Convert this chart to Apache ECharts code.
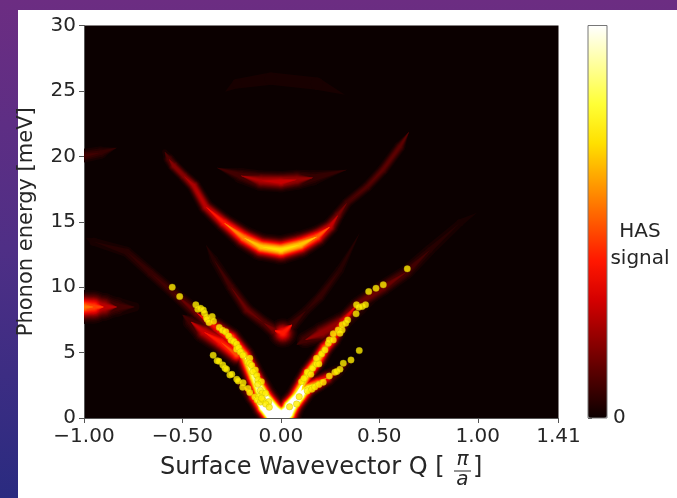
<!DOCTYPE html>
<html>
<head>
<meta charset="utf-8">
<title>HAS signal</title>
<script src="https://cdn.jsdelivr.net/npm/echarts@6/dist/echarts.min.js"></script>
<style>
    html, body {margin: 0; width: 677px; height: 498px; overflow: hidden;
        background: linear-gradient(180deg, #6c2d82 0%, #4f2f86 50%, #2a2b80 100%);}
    #panel {position: absolute; left: 18px; top: 10px; right: 0; bottom: 0; background: #fff;}
    #chart {position: absolute; left: 0; top: 0; width: 677px; height: 498px; filter: blur(0.7px);}
</style>
</head>
<body>
<div id="panel"></div>
<div id="chart"></div>
<script>
// ticks
var qTicks = [-1, -0.5, 0, 0.5, 1, 1.41];
var energyTicks = [0, 5, 10, 15, 20, 25, 30];
var colorTicks = [0];

// hot colormap, 0 to 1 in steps of 0.1
var hotColors = ['#0b0000', '#4e0000', '#910000', '#d40000', '#ff1700', '#ff5a00',
    '#ff9d00', '#ffe000', '#ffff36', '#ffff9b', '#ffffff'];

// measured phonon points [Q, meV]
var pointsLeftUpper = [[-.552,10.0],[-.514,9.28],[-.432,8.65],[-.422,8.32],[-.408,8.39],[-.394,8.26],
    [-.388,8.01],[-.378,7.70],[-.375,7.55],[-.365,7.29],[-.349,7.75],[-.342,7.40],[-.313,6.92],
    [-.297,6.71],[-.280,6.60],[-.265,6.27],[-.253,5.94],[-.239,5.84],[-.225,5.66],[-.225,5.26],
    [-.215,5.36],[-.206,5.05],[-.193,4.80],[-.158,4.57],[-.168,4.28],[-.158,4.17],[-.148,4.02],
    [-.130,3.67],[-.142,3.54],[-.122,3.25],[-.117,2.91],[-.099,2.78],[-.117,2.58]];
var pointsLeftLower = [[-.344,4.80],[-.324,4.38],[-.315,4.34],[-.295,4.06],[-.284,3.80],[-.276,3.73],
    [-.259,3.29],[-.249,3.34],[-.224,2.96],[-.217,2.83],[-.192,2.70],[-.194,2.35],[-.167,2.25],
    [-.158,1.94],[-.132,1.61]];
var pointsCentre = [[-.104,2.11],[-.095,1.89],[-.078,1.89],[-.112,1.63],[-.120,1.38],[-.103,1.22],
    [-.091,1.38],[-.098,1.51],[-.062,1.25],[-.077,1.07],[-.059,.83]];
var pointsRightLower = [[.044,.86],[.080,1.07],[.093,1.63],[.134,2.07],[.157,2.20],[.172,2.37],
    [.193,2.56],[.215,2.73],[.246,3.21],[.274,3.50],[.284,3.56],[.300,3.73],[.317,4.19],[.356,4.44],
    [.398,5.15]];
var pointsRightUpper = [[.105,2.78],[.117,3.02],[.134,3.50],[.152,3.34],[.161,3.80],[.181,4.13],
    [.193,4.13],[.181,4.57],[.207,4.90],[.224,5.20],[.241,5.72],[.246,5.97],[.266,5.97],[.266,6.43],
    [.291,6.73],[.311,6.73],[.300,6.48],[.311,7.12],[.329,7.25],[.339,7.50],[.382,7.96],[.384,8.65],
    [.396,8.47],[.413,8.52],[.430,8.65],[.446,9.66],[.483,9.92],[.520,10.18],[.642,11.40]];

// signal ridges [Q, meV, signal, spread in meV]
var ridgeArc13 = [[-.590,20.35,.03,.22],[-.569,19.8,.12,.22],[-.544,19.28,.2,.22],[-.493,18.5,.2,.22],[-.442,17.75,.26,.24],
    [-.381,16.14,.28,.26],[-.289,14.92,.42,.3],[-.188,13.77,.58,.36],[-.101,13.08,.68,.4],
    [0,12.85,.72,.42],[.097,13.24,.68,.4],[.183,13.85,.52,.34],[.249,14.61,.3,.28],[.29,15.5,.17,.24],[.336,16.45,.1,.22],
    [.437,17.67,.11,.22],[.518,18.97,.13,.22],[.604,20.73,.13,.22],[.651,21.88,.02,.22]];
var ridgeArc18 = [[-.325,19.13,.02,.3],[-.203,18.52,.1,.33],[-.101,18.13,.25,.35],[0,18.06,.3,.35],
    [.081,18.21,.22,.35],[.163,18.36,.08,.35],[.336,18.97,.02,.3]];
var ridgeArc25 = [[-.284,24.94,.015,.4],[-.224,25.55,.03,.4],[-.051,25.94,.04,.4],[.183,25.55,.04,.4],
    [.325,24.71,.02,.4]];
var ridgeFlat8 = [[-1.0,8.49,.55,.5],[-.951,8.49,.48,.5],[-.900,8.49,.28,.46],[-.833,8.49,.1,.42],
    [-.742,8.49,.03,.4]];
var ridgeFlat20 = [[-1.0,20.05,.09,.3],[-.915,20.28,.07,.3],[-.833,20.66,.02,.3]];
var ridgeLeftMain = [[-.991,13.77,.02,.26],[-.951,13.47,.04,.26],[-.783,12.70,.06,.26],[-.661,11.09,.08,.26],
    [-.544,9.56,.1,.26],[-.427,8.03,.16,.28],[-.325,6.89,.4,.32],[-.254,6.12,.62,.32],[-.188,4.82,.72,.32],
    [-.137,3.14,.9,.34],[-.086,1.53,1.3,.38],[-.036,.46,1.6,.4],[0,.08,1.6,.4]];
var ridgeLeftInner = [[-.50,7.9,.02,.3],[-.457,7.35,.1,.35],[-.391,6.58,.3,.38],[-.305,5.81,.42,.38],[-.224,4.82,.5,.35]];
var ridgeLeftLower = [[-.249,3.29,.02,.25],[-.188,2.37,.12,.25],[-.137,1.61,.55,.28],[-.086,.84,1.3,.34],
    [-.046,.23,1.6,.38]];
var ridgeCross = [[-.381,13.24,.015,.24],[-.340,12.09,.05,.24],[-.254,10.02,.1,.24],[-.172,8.26,.15,.26],
    [-.086,7.27,.12,.28],[-.031,6.66,.18,.3],[.010,6.50,.42,.45],[.056,7.12,.1,.3],[.127,8.19,.06,.25],
    [.198,9.26,.08,.24],[.300,11.32,.05,.24],[.401,14.15,.02,.24]];
var ridgeRightMain = [[0,.08,1.6,.4],[.031,.38,1.5,.4],[.076,1.45,1.1,.34],[.112,2.68,.75,.3],
    [.138,3.44,.78,.28],[.188,4.44,.72,.28],[.224,5.36,.62,.28],[.260,5.97,.5,.28],[.315,7.35,.36,.28],
    [.386,8.65,.16,.28],[.518,9.95,.16,.3],[.640,11.17,.1,.3],[.757,12.85,.05,.3],[.910,14.92,.03,.3],
    [.996,15.68,.015,.3]];
var ridgeRightInner = [[.08,5.6,.02,.3],[.122,5.97,.1,.35],[.208,6.50,.22,.38],[.300,7.27,.22,.35],[.401,8.42,.08,.33],
    [.478,9.18,.03,.3]];
var ridgeRightLower = [[.046,.84,1.5,.36],[.097,1.76,1.25,.34],[.138,2.30,.8,.3],[.188,2.68,.6,.28],
    [.234,3.06,.38,.28],[.284,3.52,.12,.28],[.351,4.28,.03,.25]];

var ridges = [ridgeArc13, ridgeArc18, ridgeArc25, ridgeFlat8, ridgeFlat20, ridgeLeftMain, ridgeLeftInner,
    ridgeLeftLower, ridgeCross, ridgeRightMain, ridgeRightInner, ridgeRightLower];
var points = pointsLeftUpper.concat(pointsLeftLower, pointsCentre, pointsRightLower, pointsRightUpper);

(function () {
    var myChart = echarts.init(document.getElementById('chart'));
    var font = '"DejaVu Sans"';
    var ink = '#262626';

    // half width of a gaussian ridge where it crosses the level t
    function halfWidth(p, t) {
        return p[2] > t ? p[3] * Math.sqrt(2 * Math.log(p[2] / t)) : 0;
    }

    // one item per ridge segment per signal level, low levels first
    var bands = [];
    for (var t = 0.02; t <= 1.001; t += 0.02) {
        ridges.forEach(function (ridge) {
            for (var i = 0; i < ridge.length - 1; i++) {
                var a = ridge[i], b = ridge[i + 1];
                var ra = halfWidth(a, t), rb = halfWidth(b, t);
                if (ra > 0 || rb > 0) {
                    bands.push([a[0], a[1], ra, b[0], b[1], rb, t]);
                }
            }
        });
    }

    function renderBand(params, api) {
        var p1 = api.coord([api.value(0), api.value(1)]);
        var p2 = api.coord([api.value(3), api.value(4)]);
        var r1 = api.size([0, api.value(2)])[1];
        var r2 = api.size([0, api.value(5)])[1];
        var dx = p2[0] - p1[0], dy = p2[1] - p1[1];
        var len = Math.sqrt(dx * dx + dy * dy) || 1;
        var nx = -dy / len, ny = dx / len;
        var color = api.visual('color');
        var style = {fill: color};
        var children = [{
            type: 'polygon',
            shape: {points: [
                [p1[0] + nx * r1, p1[1] + ny * r1], [p2[0] + nx * r2, p2[1] + ny * r2],
                [p2[0] - nx * r2, p2[1] - ny * r2], [p1[0] - nx * r1, p1[1] - ny * r1]
            ]},
            style: style
        }];
        if (r1 > 0) children.push({type: 'circle', shape: {cx: p1[0], cy: p1[1], r: r1}, style: style});
        if (r2 > 0) children.push({type: 'circle', shape: {cx: p2[0], cy: p2[1], r: r2}, style: style});
        return {type: 'group', children: children};
    }

    var lineStyle = {onZero: false, lineStyle: {color: '#555', width: 1}};

    var option = {
        backgroundColor: 'transparent',
        animation: false,
        grid: [
            {left: 84, right: 118.5, top: 25.5, bottom: 80, show: true, borderWidth: 0, backgroundColor: '#0b0000'},
            {left: 588, right: 70, top: 25.5, bottom: 80}
        ],
        xAxis: [
            {
                type: 'value',
                min: -1,
                max: 1.41,
                splitLine: {show: false},
                axisLine: lineStyle,
                axisTick: {length: 5, lineStyle: lineStyle.lineStyle, customValues: qTicks},
                axisLabel: {
                    customValues: qTicks,
                    margin: 9,
                    color: ink, fontFamily: font, fontSize: 20,
                    formatter: function (v) {
                        return v.toFixed(2).replace('-', '\u2212');
                    }
                }
            },
            {gridIndex: 1, type: 'value', min: 0, max: 1, show: false}
        ],
        yAxis: [
            {
                type: 'value',
                min: 0,
                max: 30,
                interval: 5,
                name: 'Phonon energy [meV]',
                nameLocation: 'middle',
                nameGap: 47,
                nameTextStyle: {color: ink, fontFamily: font, fontSize: 21},
                splitLine: {show: false},
                axisLine: lineStyle,
                axisTick: {length: 5, lineStyle: lineStyle.lineStyle, customValues: energyTicks},
                axisLabel: {customValues: energyTicks, margin: 8, color: ink, fontFamily: font, fontSize: 20}
            },
            {
                gridIndex: 1,
                type: 'value',
                position: 'right',
                min: 0,
                max: 1,
                splitLine: {show: false},
                axisLine: {show: false},
                axisTick: {length: 4, lineStyle: lineStyle.lineStyle, customValues: colorTicks},
                axisLabel: {customValues: colorTicks, margin: 6, color: ink, fontFamily: font, fontSize: 20}
            }
        ],
        visualMap: {
            type: 'continuous',
            seriesIndex: 0,
            dimension: 6,
            min: 0,
            max: 1,
            left: 588,
            top: 25.5,
            padding: 0,
            itemWidth: 19,
            itemHeight: 392.5,
            text: null,
            calculable: false,
            hoverLink: false,
            showLabel: false,
            inRange: {color: hotColors}
        },
        graphic: [
            {type: 'rect', z: 20, silent: true, shape: {x: 588, y: 25.5, width: 19, height: 392.5},
                style: {fill: 'none', stroke: '#777', lineWidth: 1}},
            {type: 'text', z: 20, x: 640, y: 245, silent: true,
                style: {text: 'HAS\nsignal', fill: ink, font: '20px ' + font, align: 'center',
                    verticalAlign: 'middle', lineHeight: 27}},
            {type: 'text', z: 20, x: 160, y: 468, silent: true,
                style: {text: 'Surface Wavevector Q [', fill: ink, font: '24px ' + font, verticalAlign: 'middle'}},
            {type: 'text', z: 20, x: 462.5, y: 460, silent: true,
                style: {text: '\u03c0', fill: ink, font: 'italic 20px ' + font, align: 'center', verticalAlign: 'middle'}},
            {type: 'line', z: 20, silent: true, shape: {x1: 454, y1: 471, x2: 471, y2: 471},
                style: {stroke: ink, lineWidth: 1}},
            {type: 'text', z: 20, x: 462.5, y: 480, silent: true,
                style: {text: 'a', fill: ink, font: 'italic 20px ' + font, align: 'center', verticalAlign: 'middle'}},
            {type: 'text', z: 20, x: 473, y: 468, silent: true,
                style: {text: ']', fill: ink, font: '24px ' + font, verticalAlign: 'middle'}}
        ],
        series: [
            {
                name: 'HAS signal',
                type: 'custom',
                silent: true,
                clip: true,
                encode: {x: [0, 3], y: [1, 4]},
                renderItem: renderBand,
                data: bands
            },
            {
                name: 'measured',
                type: 'scatter',
                silent: true,
                symbolSize: 6.5,
                itemStyle: {color: '#ffee00', borderColor: '#b5aa00', borderWidth: 0.4},
                data: points
            }
        ]
    };

    myChart.setOption(option);
})();
</script>
</body>
</html>
